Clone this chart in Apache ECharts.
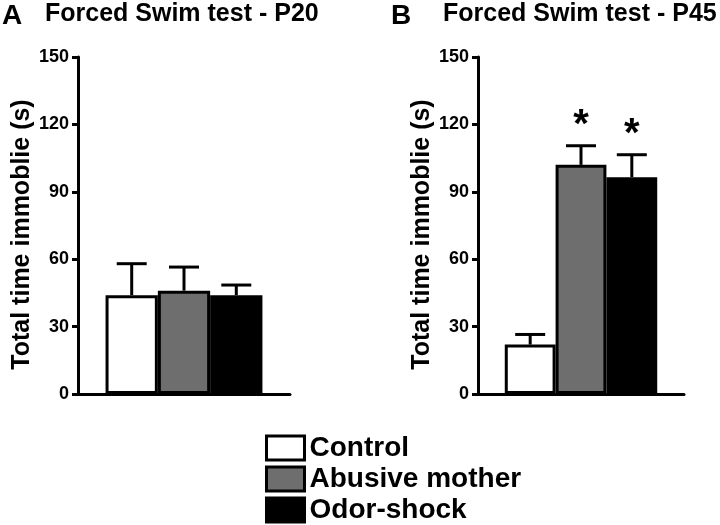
<!DOCTYPE html>
<html>
<head>
<meta charset="utf-8">
<script src="https://cdn.jsdelivr.net/npm/echarts@6/dist/echarts.min.js"></script>
<style>html,body{margin:0;padding:0;background:#fff;}#c{width:720px;height:525px;}</style>
</head>
<body>
<div id="c"></div>
<script>
var groups = ['Control', 'Abusive mother', 'Odor-shock'];
var panelTitles = ['Forced Swim test - P20', 'Forced Swim test - P45'];
var panelLetters = ['A', 'B'];
var yTicks = [0, 30, 60, 90, 120, 150];
var yAxisName = 'Total time immoblie (s)';
// means and SEM (upper error) per panel
var meansP20 = [44, 46, 44];
var semP20 = [14, 10.5, 4.5];
var meansP45 = [22, 102, 96.5];
var semP45 = [4.5, 8.5, 10];
var sigP20 = [false, false, false];
var sigP45 = [false, true, true];

var fills = ['#ffffff', '#6e6e6e', '#000000'];
var catGap = 0.26;
var FONT = 'Liberation Sans, Arial, Helvetica, sans-serif';

function barSeries(idx, means, gridIdx) {
  return groups.map(function (g, i) {
    return {
      type: 'bar', name: g, xAxisIndex: gridIdx, yAxisIndex: gridIdx,
      data: [means[i]], barGap: '0%', barCategoryGap: (catGap * 100) + '%',
      itemStyle: { color: fills[i], borderColor: '#000', borderWidth: 3 },
      emphasis: { disabled: true }, animation: false, z: 2
    };
  });
}

function errSeries(means, sems, sigs, gridIdx) {
  return {
    type: 'custom', xAxisIndex: gridIdx, yAxisIndex: gridIdx, z: 5, animation: false,
    silent: true,
    data: means.map(function (m, i) { return [0, m, sems[i], i, sigs[i] ? 1 : 0]; }),
    encode: { x: 0, y: 1 },
    renderItem: function (params, api) {
      var m = api.value(1), e = api.value(2), gi = api.value(3), s = api.value(4);
      var c = api.coord([0, m]);
      var top = api.coord([0, m + e]);
      var band = api.size([1, 0])[0];
      var bw = band * (1 - catGap) / 3;
      var x = c[0] + (gi - 1) * bw;
      var cap = 15;
      var children = [
        { type: 'line', shape: { x1: x, y1: c[1], x2: x, y2: top[1] }, style: { stroke: '#000', lineWidth: 3 } },
        { type: 'line', shape: { x1: x - cap, y1: top[1], x2: x + cap, y2: top[1] }, style: { stroke: '#000', lineWidth: 3 } }
      ];
      if (s) {
        children.push({ type: 'text', style: { text: '*', x: x, y: top[1] - 20, textAlign: 'center', textVerticalAlign: 'middle', font: 'bold 40px ' + FONT, fill: '#000' } });
      }
      return { type: 'group', children: children };
    }
  };
}

var grids = [
  { left: 78, right: 430, top: 57, bottom: 131 },
  { left: 478, right: 36, top: 57, bottom: 131 }
];

function xAx(i) {
  return {
    type: 'category', gridIndex: i, data: [''],
    axisLine: { lineStyle: { color: '#000', width: 3 } },
    axisTick: { show: false }, axisLabel: { show: false }
  };
}
function yAx(i) {
  return {
    type: 'value', gridIndex: i, min: yTicks[0], max: yTicks[yTicks.length - 1], interval: 30,
    name: yAxisName, nameLocation: 'middle', nameGap: 42, nameRotate: 90,
    nameTextStyle: { fontFamily: FONT, fontWeight: 'bold', fontSize: 25, color: '#000', padding: [0, 18, 0, 0] },
    axisLine: { show: true, lineStyle: { color: '#000', width: 3 } },
    axisTick: { show: true, length: 6, lineStyle: { color: '#000', width: 3 } },
    axisLabel: { fontFamily: FONT, fontWeight: 'bold', fontSize: 18, color: '#000', margin: 9 },
    splitLine: { show: false }
  };
}

var option = {
  backgroundColor: '#fff',
  animation: false,
  textStyle: { fontFamily: FONT },
  title: [
    { text: panelLetters[0], left: 2, top: 2, padding: 0, textStyle: { fontFamily: FONT, fontWeight: 'bold', fontSize: 28, color: '#000' } },
    { text: panelTitles[0], left: 45, top: 2, padding: 0, textStyle: { fontFamily: FONT, fontWeight: 'bold', fontSize: 25, color: '#000' } },
    { text: panelLetters[1], left: 391, top: 2, padding: 0, textStyle: { fontFamily: FONT, fontWeight: 'bold', fontSize: 28, color: '#000' } },
    { text: panelTitles[1], left: 443, top: 2, padding: 0, textStyle: { fontFamily: FONT, fontWeight: 'bold', fontSize: 25, color: '#000' } }
  ],
  legend: {
    orient: 'vertical', left: 265, top: 434, padding: 0,
    itemWidth: 38, itemHeight: 24, itemGap: 3,
    data: groups,
    icon: 'rect',
    selectedMode: false,
    textStyle: { fontFamily: FONT, fontWeight: 'bold', fontSize: 28, color: '#000' },
    itemStyle: { borderColor: '#000', borderWidth: 3 }
  },
  grid: grids,
  xAxis: [xAx(0), xAx(1)],
  yAxis: [yAx(0), yAx(1)],
  series: [].concat(
    barSeries(0, meansP20, 0),
    barSeries(1, meansP45, 1),
    [errSeries(meansP20, semP20, sigP20, 0), errSeries(meansP45, semP45, sigP45, 1)]
  )
};

var chart = echarts.init(document.getElementById('c'), null, { renderer: 'canvas' });
chart.setOption(option);
</script>
</body>
</html>
